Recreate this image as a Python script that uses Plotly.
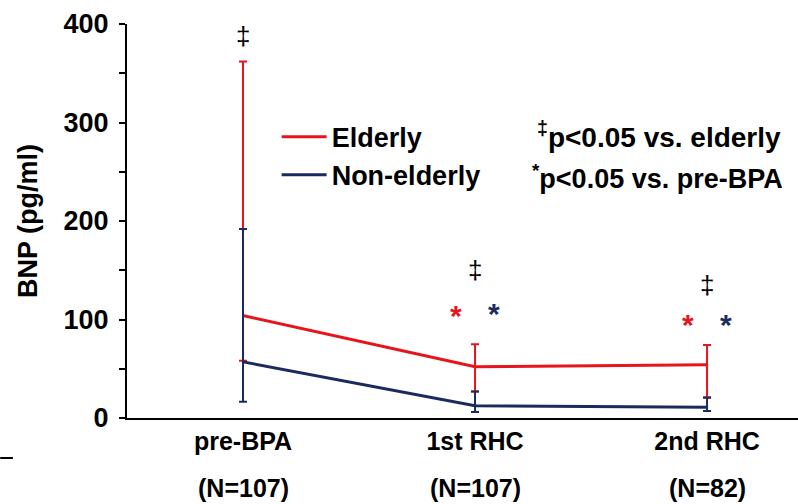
import plotly.graph_objects as go

# ---------------- data ----------------
timepoints = ["pre-BPA", "1st RHC", "2nd RHC"]
n_labels = ["(N=107)", "(N=107)", "(N=82)"]

elderly_mean = [104, 52, 54]
elderly_err_plus = [258, 23, 20]
elderly_err_minus = [46, 25, 33]

nonelderly_mean = [57, 12.5, 11]
nonelderly_err_plus = [135, 14.5, 9.6]
nonelderly_err_minus = [40.5, 6.5, 4]

y_tickvals = [0, 100, 200, 300, 400]
y_ticktext = ["0", "100", "200", "300", "400"]

# significance marks: (x index, y value)
dagger_x = [0, 1, 2]
dagger_y = [388, 150, 135]
star_x = [1, 2]
star_y_elderly = [104, 95]
star_y_nonelderly = [106, 95]

RED = "#E8141C"
NAVY = "#1B2A5E"
FONT = "Liberation Sans"

x_idx = list(range(len(timepoints)))

fig = go.Figure()
fig.add_trace(go.Scatter(
    x=x_idx, y=elderly_mean, mode="lines", name="Elderly",
    line=dict(color=RED, width=3),
    error_y=dict(type="data", symmetric=False, array=elderly_err_plus,
                 arrayminus=elderly_err_minus, color=RED, thickness=2, width=4),
))
fig.add_trace(go.Scatter(
    x=x_idx, y=nonelderly_mean, mode="lines", name="Non-elderly",
    line=dict(color=NAVY, width=3),
    error_y=dict(type="data", symmetric=False, array=nonelderly_err_plus,
                 arrayminus=nonelderly_err_minus, color=NAVY, thickness=2, width=4),
))

annotations = []
for xi, yv in zip(dagger_x, dagger_y):
    annotations.append(dict(x=xi, y=yv, xref="x", yref="y", text="‡", showarrow=False,
                            font=dict(family=FONT, size=26, color="black"),
                            xanchor="center", yanchor="middle"))
for xi, yv in zip(star_x, star_y_elderly):
    annotations.append(dict(x=xi, y=yv, xref="x", yref="y", text="*", showarrow=False,
                            xshift=-19, font=dict(family=FONT, size=30, color=RED, weight="bold"),
                            xanchor="center", yanchor="middle"))
for xi, yv in zip(star_x, star_y_nonelderly):
    annotations.append(dict(x=xi, y=yv, xref="x", yref="y", text="*", showarrow=False,
                            xshift=19, font=dict(family=FONT, size=30, color=NAVY, weight="bold"),
                            xanchor="center", yanchor="middle"))
for xi, lab in zip(x_idx, n_labels):
    annotations.append(dict(x=xi, y=-0.178, xref="x", yref="paper", text=lab, showarrow=False,
                            font=dict(family=FONT, size=25, color="black", weight="bold"),
                            xanchor="center", yanchor="middle"))
annotations.append(dict(x=0.608, y=0.718, xref="paper", yref="paper",
                        text="<sup>‡</sup>p<0.05 vs. elderly", showarrow=False,
                        font=dict(family=FONT, size=28, color="black", weight="bold"),
                        xanchor="left", yanchor="middle"))
annotations.append(dict(x=0.601, y=0.612, xref="paper", yref="paper",
                        text="<sup>*</sup>p<0.05 vs. pre-BPA", showarrow=False,
                        font=dict(family=FONT, size=27, color="black", weight="bold"),
                        xanchor="left", yanchor="middle"))

fig.update_layout(
    width=798, height=504,
    margin=dict(l=127, r=0, t=24, b=86),
    paper_bgcolor="white", plot_bgcolor="white",
    showlegend=True,
    legend=dict(x=0.223, y=0.775, xanchor="left", yanchor="top", itemwidth=45,
                font=dict(family=FONT, size=27, color="black", weight="bold"),
                bgcolor="rgba(0,0,0,0)", tracegroupgap=0),
    annotations=annotations,
    shapes=[dict(type="line", xref="paper", yref="paper", x0=-0.189, x1=-0.170,
                 y0=-0.1015, y1=-0.1015, line=dict(color="black", width=2))],
)
fig.update_xaxes(
    range=[-0.5, 2.392], tickvals=x_idx, ticktext=timepoints,
    showline=True, linecolor="black", linewidth=2, showgrid=False, zeroline=False,
    ticks="", ticklabelstandoff=0,
    tickfont=dict(family=FONT, size=25, color="black", weight="bold"),
)
fig.update_yaxes(
    range=[0, 400], tickvals=y_tickvals, ticktext=y_ticktext,
    showline=True, linecolor="black", linewidth=2, showgrid=False, zeroline=False,
    ticks="outside", ticklen=6, tickwidth=2, tickcolor="black", ticklabelstandoff=5,
    minor=dict(dtick=50, ticks="outside", ticklen=6, tickwidth=2, tickcolor="black"),
    tickfont=dict(family=FONT, size=27, color="black", weight="bold"),
    title=dict(text="BNP (pg/ml)", standoff=18,
               font=dict(family=FONT, size=27, color="black", weight="bold")),
)

fig.write_html("out.html")
